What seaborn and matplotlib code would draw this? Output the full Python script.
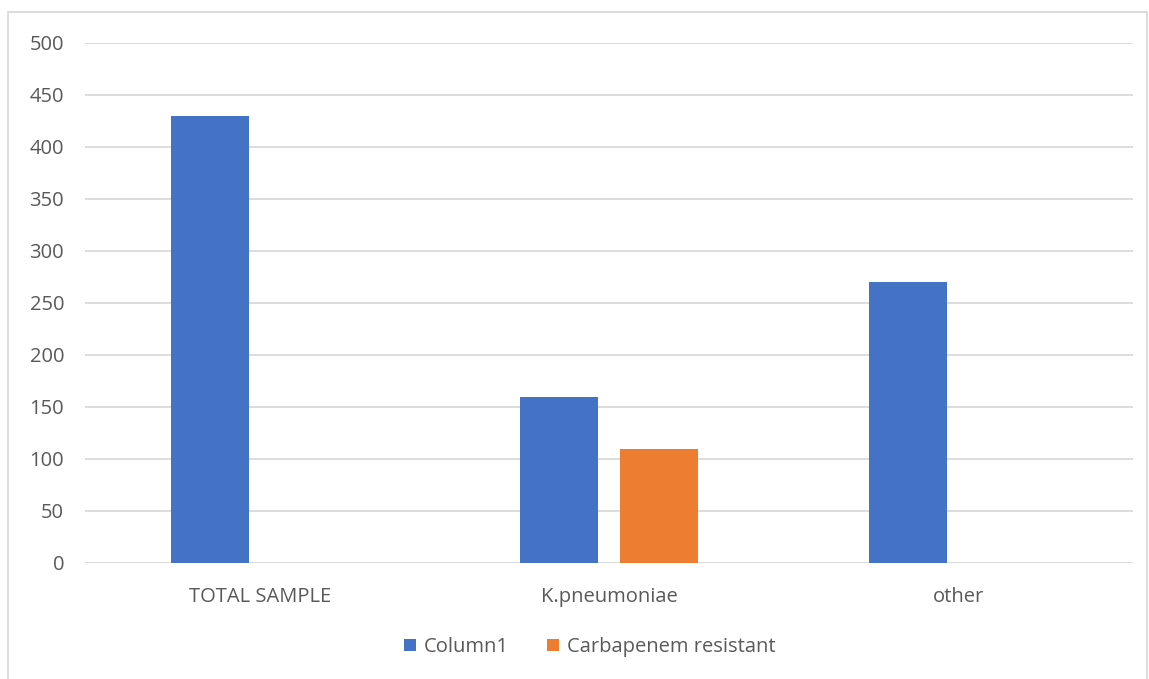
import matplotlib
matplotlib.use("Agg")
import matplotlib.pyplot as plt
import seaborn as sns
import pandas as pd
from matplotlib.patches import Rectangle, Patch

categories = ["TOTAL SAMPLE", "K.pneumoniae", "other"]
column1 = [430, 160, 270]
carbapenem = [0, 110, 0]
series_names = ["Column1", "Carbapenem resistant"]
yticks = [0, 50, 100, 150, 200, 250, 300, 350, 400, 450, 500]

df = pd.DataFrame({
    "category": categories * 2,
    "series": [series_names[0]] * 3 + [series_names[1]] * 3,
    "value": column1 + carbapenem,
})

sns.set_theme(style="white")
plt.rcParams['font.family'] = ['Open Sans', 'DejaVu Sans']

W, H = 1149, 679
fig = plt.figure(figsize=(W / 100, H / 100), dpi=100)
fig.patch.set_facecolor("white")
ax = fig.add_axes([85 / W, 1 - 563 / H, (1133 - 85) / W, (563 - 43) / H])

colors = {"Column1": "#4472C4", "Carbapenem resistant": "#ED7D31"}
sns.barplot(data=df, x="category", y="value", hue="series", order=categories,
            hue_order=series_names, palette=colors, width=0.573, gap=0.22,
            ax=ax, legend=False, saturation=1, linewidth=0, zorder=3)

ax.set_ylim(0, 500)
ax.set_xlim(-0.5, 2.5)
ax.set_yticks(yticks)
ax.yaxis.grid(True, color="#D9D9D9", linewidth=1.3, zorder=0)
ax.set_axisbelow(True)
for s in ax.spines.values():
    s.set_visible(False)
ax.set_xlabel("")
ax.set_ylabel("")
ax.tick_params(axis="both", length=0, colors="#595959", labelsize=14.5)
ax.tick_params(axis="y", pad=15)
ax.tick_params(axis="x", pad=17)

handles = [Patch(facecolor=colors[n], edgecolor="none", label=n) for n in series_names]
leg = fig.legend(handles=handles, loc="center", bbox_to_anchor=(590 / W, 1 - 647 / H),
                 ncol=2, frameon=False, fontsize=14.5, handlelength=0.6, handleheight=0.6,
                 columnspacing=1.9, handletextpad=0.4)
for t in leg.get_texts():
    t.set_color("#595959")

fig.add_artist(Rectangle((8 / W, -0.05), (1147 - 8) / W, 1 - 12 / H + 0.05,
                         transform=fig.transFigure, fill=False, edgecolor="#D9D9D9",
                         linewidth=1.3))

fig.savefig("out.png", dpi=100, facecolor="white")
